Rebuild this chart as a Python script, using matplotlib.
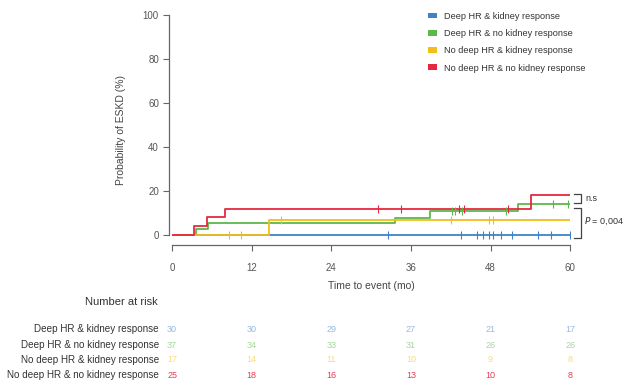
import matplotlib
matplotlib.use("Agg")
import matplotlib.pyplot as plt
from matplotlib.transforms import blended_transform_factory

groups = ["Deep HR & kidney response", "Deep HR & no kidney response",
          "No deep HR & kidney response", "No deep HR & no kidney response"]
colors = ["#3f82c8", "#5cb84a", "#f2be1a", "#e5273f"]

blue_t = [0, 60]
blue_p = [0, 0]
blue_cens = [32.6, 43.5, 46.0, 46.8, 47.8, 48.3, 49.5, 51.3, 55.1, 57.1, 59.9]

green_t = [0, 3.6, 5.4, 33.6, 38.9, 52.1, 60]
green_p = [0, 2.7, 5.5, 7.7, 10.7, 14.1, 14.1]
green_cens = [42.2, 42.7, 43.7, 50.3, 57.4, 59.7]

yellow_t = [0, 14.6, 60]
yellow_p = [0, 6.7, 6.7]
yellow_cens = [8.6, 10.4, 16.4, 42.0, 47.8, 48.3]

red_t = [0, 3.3, 5.2, 7.9, 54.1, 60]
red_p = [0, 4.1, 8.1, 11.9, 18.2, 18.2]
red_cens = [31.1, 34.5, 43.2, 44.0, 50.6]

risk_times = [0, 12, 24, 36, 48, 60]
risk_blue = [30, 30, 29, 27, 21, 17]
risk_green = [37, 34, 33, 31, 26, 26]
risk_yellow = [17, 14, 11, 10, 9, 8]
risk_red = [25, 18, 16, 13, 10, 8]

y_ticks = [0, 20, 40, 60, 80, 100]
x_ticks = [0, 12, 24, 36, 48, 60]

series = [(blue_t, blue_p, blue_cens), (green_t, green_p, green_cens),
          (yellow_t, yellow_p, yellow_cens), (red_t, red_p, red_cens)]
risks = [risk_blue, risk_green, risk_yellow, risk_red]

plt.rcParams['font.family'] = ['Liberation Sans', 'DejaVu Sans']
fig = plt.figure(figsize=(6.35, 3.85), dpi=100)
ax = fig.add_axes([0.271, 0.364, 0.627, 0.597])

def step_val(t, p, x):
    v = p[0]
    for ti, pi in zip(t, p):
        if ti <= x:
            v = pi
    return v

for (t, p, c), col in zip(series, colors):
    ax.step(t, p, where='post', color=col, lw=1.3, zorder=3)
    cy = [step_val(t, p, x) for x in c]
    ax.plot(c, cy, ls='none', marker='|', ms=6, mew=0.8, color=col, zorder=4)

ax.set_xlim(0, 60)
ax.set_ylim(-4.6, 100)
for s in ['top', 'right']:
    ax.spines[s].set_visible(False)
ax.spines['left'].set_bounds(0, 100)
ax.spines['bottom'].set_bounds(0, 60)
ax.spines['left'].set_position(('outward', 2))
for s in ['left', 'bottom']:
    ax.spines[s].set_color('#6b6461')
    ax.spines[s].set_linewidth(0.9)
ax.set_yticks(y_ticks)
ax.set_xticks(x_ticks)
ax.tick_params(colors='#6b6461', labelcolor='#555555', labelsize=7, length=4, width=0.8)
ax.tick_params(axis='x', pad=9)
ax.set_ylabel('Probability of ESKD (%)', fontsize=7.5, color='#444444', labelpad=12)
ax.set_xlabel('Time to event (mo)', fontsize=7.5, color='#444444', labelpad=6)

# legend
from matplotlib.patches import Patch
handles = [Patch(facecolor=c, edgecolor='none') for c in colors]
leg = ax.legend(handles, groups, loc='upper right', bbox_to_anchor=(1.06, 1.05),
                frameon=False, fontsize=6.6, handlelength=1.0, handleheight=0.6,
                labelspacing=0.9, handletextpad=0.8)
for txt in leg.get_texts():
    txt.set_color('#333333')

# brackets
bc = '#444444'
ax.plot([60.6, 61.6, 61.6, 60.6], [18.6, 18.6, 14.6, 14.6], color=bc, lw=0.9, clip_on=False)
ax.text(62.3, 16.6, 'n.s', fontsize=6.5, va='center', ha='left', color='#333333', clip_on=False)
ax.plot([60.6, 61.6, 61.6, 60.6], [12.3, 12.3, -1.5, -1.5], color=bc, lw=0.9, clip_on=False)
ax.text(62.0, 6.0, r'$P$ = 0,004', fontsize=6.5, va='center', ha='left', color='#333333', clip_on=False)

# risk table
tr = blended_transform_factory(ax.transData, fig.transFigure)
fig.text(158 / 635, 1 - 302 / 385, 'Number at risk', fontsize=8, ha='right', va='center', color='#333333')
row_y = [329, 345, 360, 375]
for g, col, r, yy in zip(groups, colors, risks, row_y):
    fy = 1 - yy / 385
    fig.text(159 / 635, fy, g, fontsize=7.1, ha='right', va='center', color='#333333')
    for x, v in zip(risk_times, r):
        ax.text(x, fy, str(v), transform=tr, fontsize=6.5, ha='center', va='center',
                color=col, alpha=0.55 if col != colors[3] else 0.9)

fig.savefig('out.png', dpi=100)
